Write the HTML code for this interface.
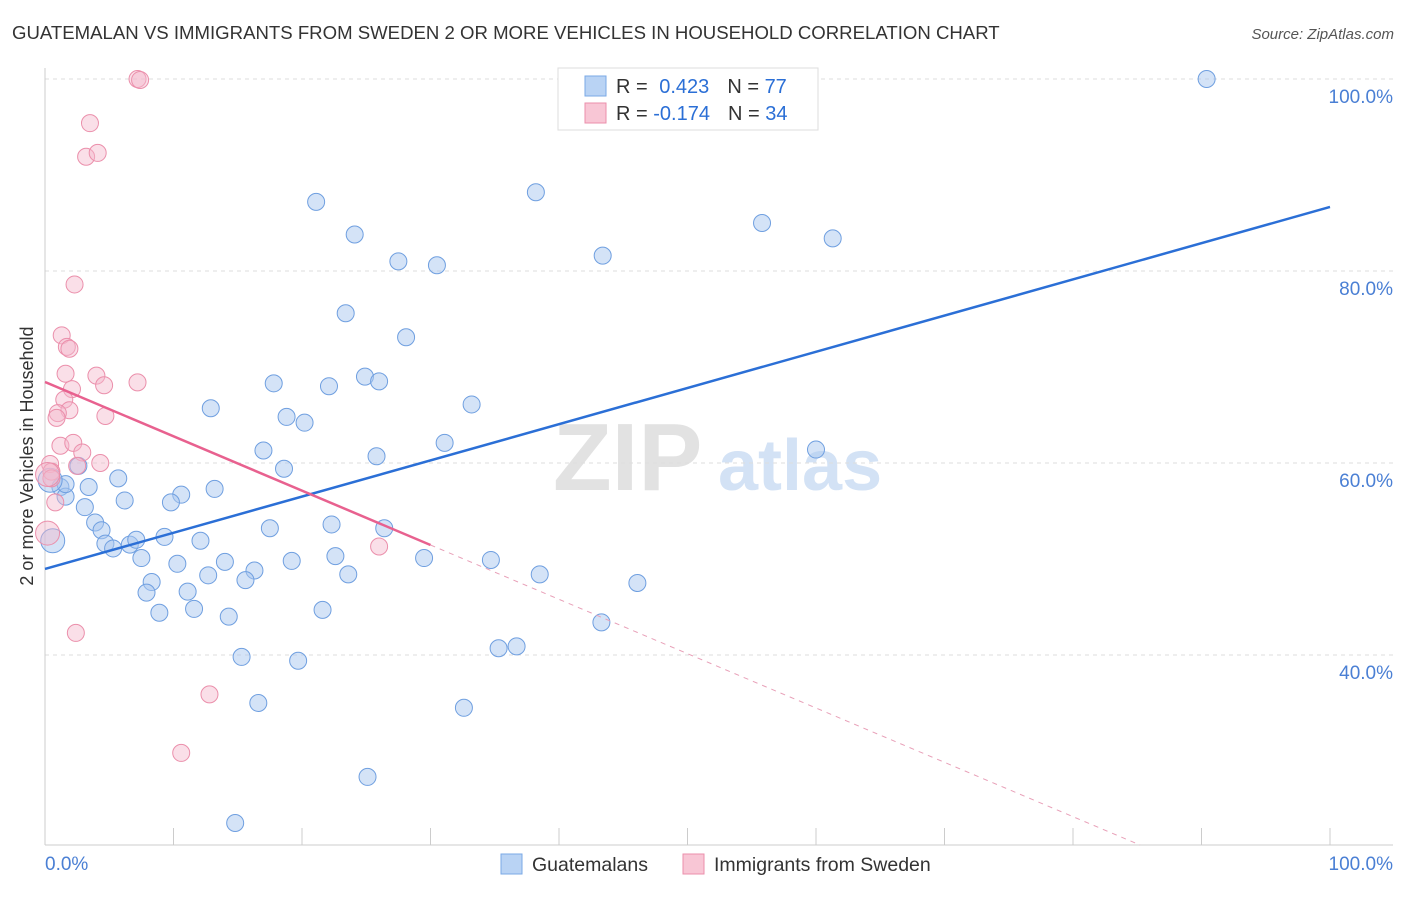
<!DOCTYPE html>
<html><head><meta charset="utf-8"><style>
body{margin:0;background:#fff;font-family:"Liberation Sans",sans-serif}
svg text{font-family:"Liberation Sans",sans-serif}
</style></head><body>
<svg id="c" width="1406" height="892">
<text x="12" y="39" font-size="18.6" fill="#333">GUATEMALAN VS IMMIGRANTS FROM SWEDEN 2 OR MORE VEHICLES IN HOUSEHOLD CORRELATION CHART</text>
<text x="1394" y="39" font-size="15" fill="#555" font-style="italic" text-anchor="end">Source: ZipAtlas.com</text>
<text x="33" y="456" font-size="18" fill="#333" text-anchor="middle" transform="rotate(-90 33 456)">2 or more Vehicles in Household</text>
<g><text x="553" y="490" font-size="96" fill="#e2e2e2" font-family="Liberation Serif" font-weight="bold">ZIP</text><text x="718" y="490" font-size="72" fill="#d3e2f5" font-weight="bold">atlas</text></g>
<g id="grid"></g><g id="pts"></g><g id="lines"></g>
<g>
<rect x="558" y="68" width="260" height="62" fill="#fff" stroke="#ddd"/>
<rect x="585" y="76" width="21" height="20" fill="#b9d3f4" stroke="#7aa8e6"/>
<rect x="585" y="103" width="21" height="20" fill="#f8c6d5" stroke="#eb8fab"/>
<text x="616" y="93" font-size="20" fill="#333">R = <tspan fill="#2b6fd6" dx="6">0.423</tspan><tspan dx="18" fill="#333">N = </tspan><tspan fill="#2b6fd6">77</tspan></text>
<text x="616" y="120" font-size="20" fill="#333">R = <tspan fill="#2b6fd6">-0.174</tspan><tspan dx="18" fill="#333">N = </tspan><tspan fill="#2b6fd6">34</tspan></text>
</g>
<g>
<rect x="501" y="854" width="21" height="20" fill="#b9d3f4" stroke="#7aa8e6"/>
<text x="532" y="871" font-size="19.5" fill="#333">Guatemalans</text>
<rect x="683" y="854" width="21" height="20" fill="#f8c6d5" stroke="#eb8fab"/>
<text x="714" y="871" font-size="19.5" fill="#333">Immigrants from Sweden</text>
</g>
</svg>
<script>
const blueX=[90.4,38.2,21.1,55.8,61.3,24.1,43.4,27.5,30.5,23.4,28.1,17.8,22.1,24.9,26.0,12.9,33.2,18.8,20.2,31.1,17.0,25.8,60.0,18.6,5.7,2.6,3.4,1.2,1.6,1.6,13.2,10.6,9.8,6.2,3.1,3.9,4.4,17.5,22.3,26.4,0.6,4.7,5.3,6.6,7.1,9.3,12.1,7.5,10.3,14.0,16.3,19.2,22.6,29.5,34.7,12.7,15.6,23.6,38.5,46.1,8.3,7.9,11.1,8.9,11.6,14.3,21.6,43.3,35.3,36.7,15.3,19.7,16.6,32.6,25.1,14.8,0.4];
const blueY=[100.0,88.2,87.2,85.0,83.4,83.8,81.6,81.0,80.6,75.6,73.1,68.3,68.0,69.0,68.5,65.7,66.1,64.8,64.2,62.1,61.3,60.7,61.4,59.4,58.4,59.7,57.5,57.5,56.5,57.8,57.3,56.7,55.9,56.1,55.4,53.8,53.0,53.2,53.6,53.2,51.9,51.6,51.1,51.5,52.0,52.3,51.9,50.1,49.5,49.7,48.8,49.8,50.3,50.1,49.9,48.3,47.8,48.4,48.4,47.5,47.6,46.5,46.6,44.4,44.8,44.0,44.7,43.4,40.7,40.9,39.8,39.4,35.0,34.5,27.3,22.5,58.2];
const pinkX=[7.2,7.4,3.5,3.2,4.1,2.3,1.3,1.7,1.9,4.0,1.6,4.6,2.1,7.2,1.5,1.9,1.0,0.9,4.7,1.2,2.2,2.9,2.5,4.3,0.4,0.5,0.5,0.8,0.2,26.0,2.4,12.8,10.6,0.2];
const pinkY=[100,99.9,95.4,91.9,92.3,78.6,73.3,72.1,71.9,69.1,69.3,68.1,67.7,68.4,66.6,65.5,65.2,64.7,64.9,61.8,62.1,61.1,59.7,60.0,59.9,59.1,58.4,55.9,52.7,51.3,42.3,35.9,29.8,58.8];
const blueLine=[48.96,86.67]; // y at x=0 and x=100
const pinkLine=[68.44,51.46,30]; // y at x=0, y at x=30, solid end x
const yTicks=[100,80,60,40];
const NS="http://www.w3.org/2000/svg";
const X=v=>45+v*12.85, Y=v=>463-(v-60)*9.6;
function mk(tag,attrs,parent){const e=document.createElementNS(NS,tag);for(const k in attrs)e.setAttribute(k,attrs[k]);parent.appendChild(e);return e;}
const grid=document.getElementById('grid'),pts=document.getElementById('pts'),lines=document.getElementById('lines');
yTicks.forEach(t=>{
 const l=mk('line',{x1:45,x2:1393,y1:Y(t),y2:Y(t),stroke:'#ddd','stroke-dasharray':'4 4'},grid);
 
 
 const tx=mk('text',{x:1393,y:Y(t)+24,'font-size':19,fill:'#4a7fd4','text-anchor':'end'},grid);
 tx.textContent=t.toFixed(1)+'%';
 
 
});
mk('line',{x1:45,x2:45,y1:68,y2:845,stroke:'#ccc'},grid);
mk('line',{x1:45,x2:1393,y1:845,y2:845,stroke:'#ccc'},grid);
for(let i=1;i<=10;i++){mk('line',{x1:X(i*10),x2:X(i*10),y1:828,y2:845,stroke:'#ccc'},grid);}
const x0=mk('text',{x:45,y:870,'font-size':19,fill:'#4a7fd4'},grid);x0.textContent='0.0%';


const x1=mk('text',{x:1393,y:870,'font-size':19,fill:'#4a7fd4','text-anchor':'end'},grid);x1.textContent='100.0%';


blueX.forEach((v,i)=>{
 const r=(i===40||i===76)?12:8.5;
 const c=mk('circle',{cx:X(v),cy:Y(blueY[i]),r:r,fill:'rgba(169,200,240,0.5)',stroke:'#6f9fe0','stroke-width':1},pts);
 
 
});
pinkX.forEach((v,i)=>{
 const r=(i===28||i===33)?12:8.5;
 const c=mk('circle',{cx:X(v),cy:Y(pinkY[i]),r:r,fill:'rgba(245,184,203,0.45)',stroke:'#eb8fab','stroke-width':1},pts);
 
 
});
const bl=mk('line',{x1:X(0),y1:Y(blueLine[0]),x2:X(100),y2:Y(blueLine[1]),stroke:'#2b6fd6','stroke-width':2.5},lines);


const slope=(pinkLine[1]-pinkLine[0])/pinkLine[2];
const pl=mk('line',{x1:X(0),y1:Y(pinkLine[0]),x2:X(pinkLine[2]),y2:Y(pinkLine[1]),stroke:'#e8618f','stroke-width':2.5},lines);


const yb=60+(463-845)/9.6; const xe=(yb-pinkLine[0])/slope;
const pd=mk('line',{x1:X(pinkLine[2]),y1:Y(pinkLine[1]),x2:X(xe),y2:Y(yb),stroke:'#e8a0b8','stroke-width':1,'stroke-dasharray':'5 5'},lines);


</script>
</body></html>
